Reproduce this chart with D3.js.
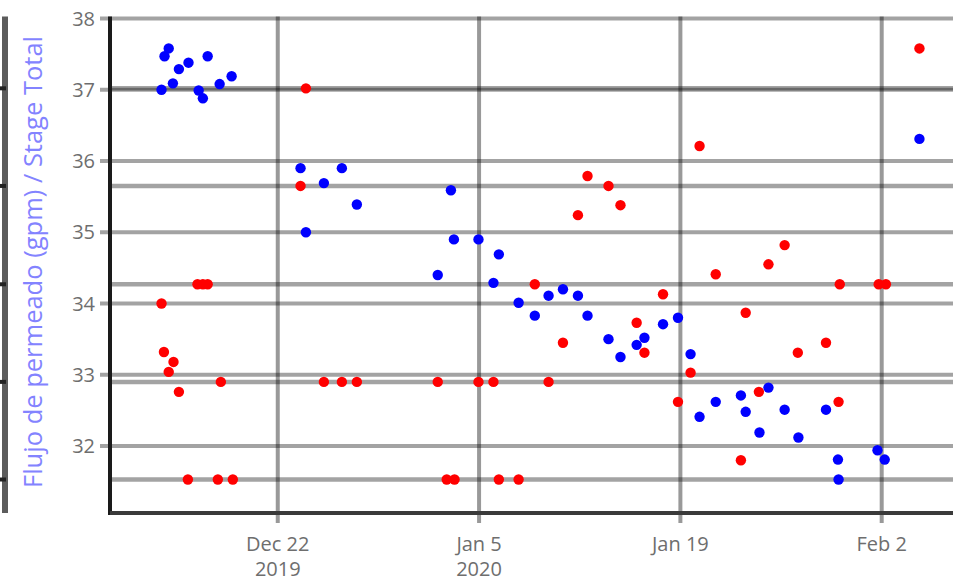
<!DOCTYPE html>
<html>
<head>
<meta charset="utf-8">
<script src="https://cdn.jsdelivr.net/npm/d3@7"></script>
<style>
  body { margin: 0; background: #fff; }
  svg { display: block; font-family: "Open Sans", "Noto Sans", sans-serif; }
</style>
</head>
<body>
<script>
// blue series: time, flow
const blueTimes = [
  "2019-12-13T22", "2019-12-14T03", "2019-12-14T10", "2019-12-14T17", "2019-12-15T03",
  "2019-12-15T19", "2019-12-16T12", "2019-12-16T19", "2019-12-17T03", "2019-12-17T23",
  "2019-12-18T19", "2019-12-23T14", "2019-12-23T23", "2019-12-25T05", "2019-12-26T11",
  "2019-12-27T12", "2020-01-02T03", "2020-01-03T01", "2020-01-03T06", "2020-01-04T23",
  "2020-01-06T00", "2020-01-06T09", "2020-01-07T18", "2020-01-08T21", "2020-01-09T20",
  "2020-01-10T20", "2020-01-11T21", "2020-01-12T13", "2020-01-14T00", "2020-01-14T20",
  "2020-01-15T23", "2020-01-16T12", "2020-01-17T19", "2020-01-18T20", "2020-01-19T17",
  "2020-01-20T08", "2020-01-21T11", "2020-01-23T05", "2020-01-23T13", "2020-01-24T12",
  "2020-01-25T03", "2020-01-26T06", "2020-01-27T05", "2020-01-29T03", "2020-01-29T23",
  "2020-01-30T00", "2020-02-01T17", "2020-02-02T05", "2020-02-04T15"
];
const blueFlow = [
  37.00, 37.47, 37.58, 37.09, 37.29,
  37.38, 36.99, 36.88, 37.47, 37.08,
  37.19, 35.90, 35.00, 35.69, 35.90,
  35.39, 34.40, 35.59, 34.90, 34.90,
  34.29, 34.69, 34.01, 33.83, 34.11,
  34.20, 34.11, 33.83, 33.50, 33.25,
  33.42, 33.52, 33.71, 33.80, 33.29,
  32.41, 32.62, 32.71, 32.48, 32.19,
  32.82, 32.51, 32.12, 32.51, 31.81,
  31.53, 31.94, 31.81, 36.31
];

// red series: time, flow
const redTimes = [
  "2019-12-13T22", "2019-12-14T02", "2019-12-14T10", "2019-12-14T18", "2019-12-15T03",
  "2019-12-15T18", "2019-12-16T10", "2019-12-16T19", "2019-12-17T03", "2019-12-17T20",
  "2019-12-18T01", "2019-12-18T21", "2019-12-23T14", "2019-12-23T23", "2019-12-25T05",
  "2019-12-26T11", "2019-12-27T12", "2020-01-02T03", "2020-01-02T18", "2020-01-03T07",
  "2020-01-04T23", "2020-01-06T00", "2020-01-06T09", "2020-01-07T18", "2020-01-08T21",
  "2020-01-09T20", "2020-01-10T20", "2020-01-11T21", "2020-01-12T13", "2020-01-14T00",
  "2020-01-14T20", "2020-01-15T23", "2020-01-16T12", "2020-01-17T19", "2020-01-18T20",
  "2020-01-19T17", "2020-01-20T08", "2020-01-21T11", "2020-01-23T05", "2020-01-23T13",
  "2020-01-24T11", "2020-01-25T03", "2020-01-26T06", "2020-01-27T04", "2020-01-29T03",
  "2020-01-30T00", "2020-01-30T02", "2020-02-01T19", "2020-02-02T07", "2020-02-04T15"
];
const redFlow = [
  34.00, 33.32, 33.04, 33.18, 32.76,
  31.53, 34.27, 34.27, 34.27, 31.53,
  32.90, 31.53, 35.65, 37.02, 32.90,
  32.90, 32.90, 32.90, 31.53, 31.53,
  32.90, 32.90, 31.53, 31.53, 34.27,
  32.90, 33.45, 35.24, 35.79, 35.65,
  35.38, 33.73, 33.31, 34.13, 32.62,
  33.03, 36.21, 34.41, 31.80, 33.87,
  32.76, 34.55, 34.82, 33.31, 33.45,
  32.62, 34.27, 34.27, 34.27, 37.58
];

const refLevels = [37.02, 35.65, 34.27, 32.90, 31.53];
const yTicks = [32, 33, 34, 35, 36, 37, 38];
const xTickDays = ["2019-12-22", "2020-01-05", "2020-01-19", "2020-02-02"];
const xTickLabels = [["Dec 22", "2019"], ["Jan 5", "2020"], ["Jan 19"], ["Feb 2"]];
const yTitle = "Flujo de permeado (gpm) / Stage Total";

const width = 953;
const height = 581;
const margin = { top: 18.5, right: 0, bottom: 68, left: 110 };

const parseTime = d3.timeParse("%Y-%m-%dT%H");
const parseDay = d3.timeParse("%Y-%m-%d");

const blue = blueTimes.map((t, i) => ({ t: parseTime(t), v: blueFlow[i] }));
const red = redTimes.map((t, i) => ({ t: parseTime(t), v: redFlow[i] }));
const tickDates = xTickDays.map(parseDay);

const x = d3.scaleTime()
  .domain([d3.timeHour.offset(tickDates[0], -280), d3.timeHour.offset(tickDates[3], 119)])
  .range([margin.left, width - margin.right]);

const y = d3.scaleLinear()
  .domain([31.06, 38])
  .range([height - margin.bottom, margin.top]);

const svg = d3.select("body")
  .append("svg")
  .attr("width", width)
  .attr("height", height);

svg.append("defs").append("clipPath")
  .attr("id", "plot")
  .append("rect")
  .attr("x", margin.left)
  .attr("y", 0)
  .attr("width", width - margin.left)
  .attr("height", height - margin.bottom + 12);

const grid = svg.append("g").attr("clip-path", "url(#plot)");

// horizontal tick gridlines (extend a bit left as ticks)
svg.append("g")
  .selectAll("line")
  .data(yTicks)
  .join("line")
  .attr("x1", margin.left - 10)
  .attr("x2", width)
  .attr("y1", d => y(d))
  .attr("y2", d => y(d))
  .attr("stroke", "#000")
  .attr("stroke-opacity", 0.36)
  .attr("stroke-width", 4);

// reference levels
grid.append("g")
  .selectAll("line")
  .data(refLevels)
  .join("line")
  .attr("x1", margin.left)
  .attr("x2", width)
  .attr("y1", d => y(d))
  .attr("y2", d => y(d))
  .attr("stroke", "#000")
  .attr("stroke-opacity", 0.36)
  .attr("stroke-width", 4.5);

// vertical gridlines
svg.append("g")
  .selectAll("line")
  .data(tickDates)
  .join("line")
  .attr("x1", d => x(d))
  .attr("x2", d => x(d))
  .attr("y1", margin.top - 2)
  .attr("y2", height - margin.bottom + 10)
  .attr("stroke", "#000")
  .attr("stroke-opacity", 0.4)
  .attr("stroke-width", 4);

// axes lines
svg.append("line")
  .attr("x1", margin.left).attr("x2", margin.left)
  .attr("y1", margin.top - 2).attr("y2", height - margin.bottom + 2)
  .attr("stroke", "#1a1a1a").attr("stroke-width", 4);

svg.append("line")
  .attr("x1", margin.left).attr("x2", width)
  .attr("y1", height - margin.bottom).attr("y2", height - margin.bottom)
  .attr("stroke", "#3a3a3a").attr("stroke-width", 4);

// left edge bar with ticks at reference levels
svg.append("line")
  .attr("x1", 5).attr("x2", 5)
  .attr("y1", margin.top - 2).attr("y2", height - margin.bottom)
  .attr("stroke", "#5c5c5c").attr("stroke-width", 6);

svg.append("g")
  .selectAll("line")
  .data(refLevels)
  .join("line")
  .attr("x1", 0).attr("x2", 6)
  .attr("y1", d => y(d)).attr("y2", d => y(d))
  .attr("stroke", "#222").attr("stroke-width", 4);

// y tick labels
svg.append("g")
  .selectAll("text")
  .data(yTicks)
  .join("text")
  .attr("x", 95)
  .attr("y", d => y(d))
  .attr("dy", "0.35em")
  .attr("text-anchor", "end")
  .attr("fill", "#6e6e6e")
  .attr("font-size", 20)
  .text(d => d);

// x tick labels
const xl = svg.append("g")
  .selectAll("text")
  .data(tickDates)
  .join("text")
  .attr("x", d => x(d))
  .attr("y", 551)
  .attr("text-anchor", "middle")
  .attr("fill", "#6e6e6e")
  .attr("font-size", 20);

xl.selectAll("tspan")
  .data((d, i) => xTickLabels[i])
  .join("tspan")
  .attr("x", function () { return this.parentNode.getAttribute("x"); })
  .attr("dy", (d, i) => i === 0 ? 0 : 25)
  .text(d => d);

// y title
svg.append("text")
  .attr("transform", "translate(42,262) rotate(-90)")
  .attr("text-anchor", "middle")
  .attr("fill", "#8383ff")
  .attr("font-size", 25.5)
  .text(yTitle);

// points
const pts = svg.append("g").attr("clip-path", "url(#plot)");

pts.selectAll("circle.red")
  .data(red)
  .join("circle")
  .attr("class", "red")
  .attr("cx", d => x(d.t))
  .attr("cy", d => y(d.v))
  .attr("r", 5.2)
  .attr("fill", "#ff0000");

pts.selectAll("circle.blue")
  .data(blue)
  .join("circle")
  .attr("class", "blue")
  .attr("cx", d => x(d.t))
  .attr("cy", d => y(d.v))
  .attr("r", 5.2)
  .attr("fill", "#0000ff");
</script>
</body>
</html>
